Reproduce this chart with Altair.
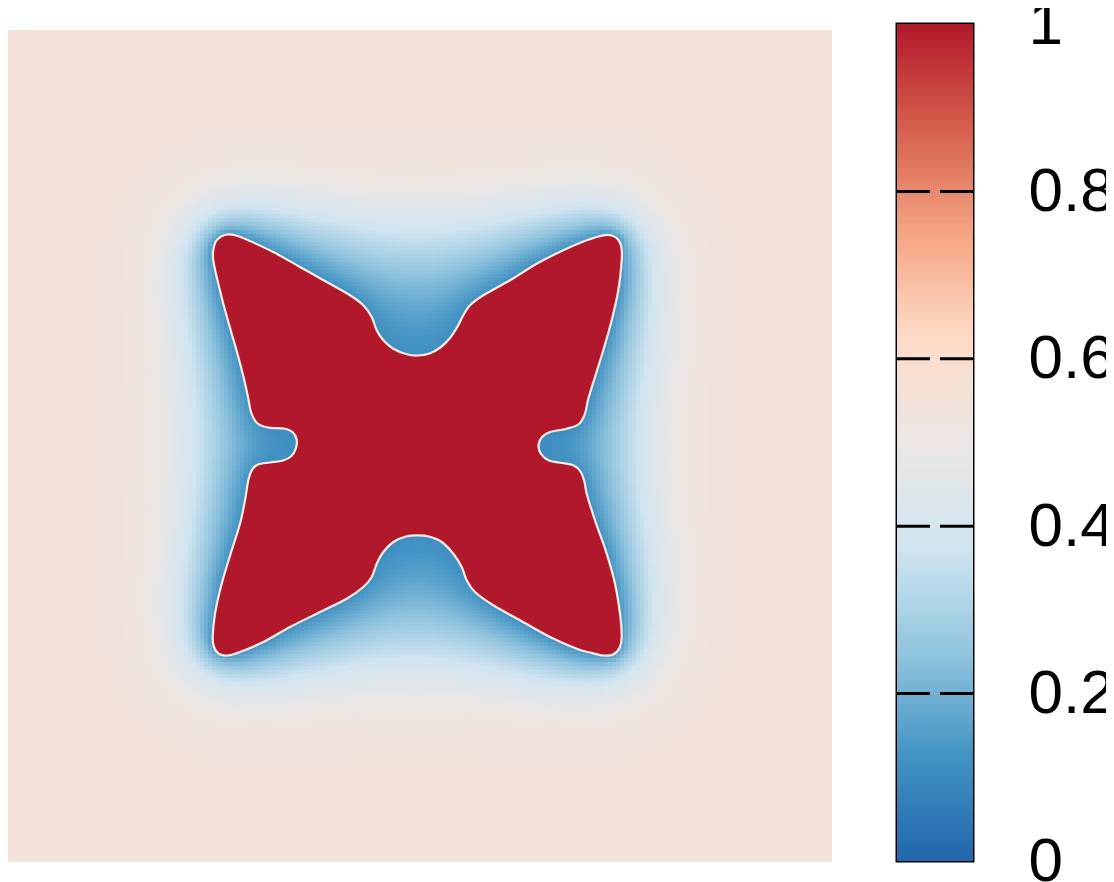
import numpy as np
import pandas as pd
import altair as alt

alt.data_transformers.disable_max_rows()

# ---------------- data ----------------
# outline of the red (phi = 1) crystal, reference pixel coordinates (page x, page y)
outline_x = [213.0, 215.5, 221.0, 228.0, 236.0, 248.3, 273.3, 300.0, 326.7, 350.0, 363.3, 371.7,
             376.7, 383.3, 393.3, 406.7, 418.0, 429.5, 441.0, 450.0, 456.7, 463.3, 470.0, 483.3,
             510.0, 536.7, 563.3, 586.7, 603.3, 612.0, 618.5, 621.5, 621.7, 618.3, 611.7, 603.3,
             595.0, 588.3, 585.0, 579.0, 566.7, 550.0, 542.0, 538.5, 541.0, 549.0, 562.0, 573.3,
             580.5, 584.5, 586.7, 595.0, 606.7, 615.0, 620.0, 621.7, 619.5, 613.0, 603.0, 590.0,
             576.7, 550.0, 520.0, 493.3, 475.0, 466.7, 461.7, 453.3, 441.7, 429.0, 418.0, 406.7,
             393.3, 383.3, 376.7, 371.7, 363.3, 346.7, 320.0, 290.0, 263.3, 240.0, 228.0, 219.0,
             214.0, 212.7, 215.0, 221.7, 231.7, 240.0, 245.0, 248.3, 251.7, 258.0, 270.0, 283.0,
             291.5, 296.0, 296.5, 292.5, 284.0, 268.0, 257.0, 251.0, 248.0, 243.5, 237.0, 231.7,
             223.3, 216.7, 213.5]
outline_y_page = [250.0, 240.0, 234.5, 232.5, 233.5, 238.3, 250.0, 265.0, 280.0, 293.3, 303.3, 315.0,
                  328.3, 338.3, 346.7, 352.3, 353.5, 351.5, 345.0, 336.0, 326.0, 313.3, 303.3, 293.3,
                  278.3, 261.7, 248.3, 238.3, 233.3, 233.5, 238.0, 246.0, 258.3, 288.3, 318.3, 348.3,
                  375.0, 396.7, 411.7, 422.0, 426.7, 430.0, 435.0, 443.0, 452.0, 458.5, 461.0, 463.3,
                  469.5, 480.0, 491.7, 518.3, 551.7, 581.7, 611.7, 635.0, 646.0, 652.5, 653.5, 650.5,
                  646.7, 635.0, 618.3, 603.3, 590.0, 578.3, 565.0, 551.7, 540.0, 534.5, 533.3, 534.3,
                  540.0, 550.0, 561.7, 575.0, 585.0, 596.7, 610.0, 625.0, 640.0, 650.0, 653.5, 652.0,
                  645.0, 635.0, 611.7, 581.7, 548.3, 521.7, 498.3, 478.3, 468.3, 462.5, 460.5, 458.5,
                  454.0, 446.0, 437.0, 430.0, 426.5, 425.5, 421.0, 410.0, 395.0, 375.0, 350.0, 331.7,
                  301.7, 275.0, 260.0]
PLOT_TOP = 28.0
outline_y = [v - PLOT_TOP for v in outline_y_page]

field_far = 0.55       # value of the undisturbed field (beige)
field_interface = 0.11 # value reached right at the crystal (dark blue)

colorbar_ticks = [0, 0.2, 0.4, 0.6, 0.8, 1]
color_stops = [0, 0.125, 0.25, 0.375, 0.5, 0.625, 0.75, 0.875, 1]
color_values = ["#2166ac", "#4393c3", "#92c5de", "#d1e5f0", "#ebe7e5",
                "#fddbc7", "#f4a582", "#d6604d", "#b2182b"]

# ---------------- field around the crystal ----------------
SIZE = 832.0
CELL = 4.0
N = int(SIZE / CELL)
cc = (np.arange(N) + 0.5) * CELL
X, Y = np.meshgrid(cc, cc)
px = np.array(outline_x)
py = np.array(outline_y)


def inside_poly(xs, ys, qx, qy):
    res = np.zeros(qx.shape, bool)
    n = len(xs)
    for i in range(n):
        x1, y1, x2, y2 = xs[i], ys[i], xs[(i + 1) % n], ys[(i + 1) % n]
        cond = (y1 > qy) != (y2 > qy)
        xint = x1 + (qy - y1) * (x2 - x1) / ((y2 - y1) if y2 != y1 else 1e-9)
        res ^= cond & (qx < xint)
    return res


def poly_dist(xs, ys, qx, qy):
    d = np.full(qx.shape, np.inf)
    n = len(xs)
    for i in range(n):
        ax, ay, bx, by = xs[i], ys[i], xs[(i + 1) % n], ys[(i + 1) % n]
        dx, dy = bx - ax, by - ay
        t = np.clip(((qx - ax) * dx + (qy - ay) * dy) / (dx * dx + dy * dy), 0, 1)
        d = np.minimum(d, np.hypot(qx - ax - t * dx, qy - ay - t * dy))
    return d


def convex_hull(xs, ys):
    pts = sorted(set(zip(xs, ys)))

    def cross(o, a, b):
        return (a[0] - o[0]) * (b[1] - o[1]) - (a[1] - o[1]) * (b[0] - o[0])
    lower, upper = [], []
    for p in pts:
        while len(lower) >= 2 and cross(lower[-2], lower[-1], p) <= 0:
            lower.pop()
        lower.append(p)
    for p in reversed(pts):
        while len(upper) >= 2 and cross(upper[-2], upper[-1], p) <= 0:
            upper.pop()
        upper.append(p)
    h = lower[:-1] + upper[:-1]
    return np.array([p[0] for p in h]), np.array([p[1] for p in h])


inside = inside_poly(px, py, X, Y)
dist = poly_dist(px, py, X, Y)
hx, hy = convex_hull(outline_x, outline_y)
hull_in = inside_poly(hx, hy, X, Y)
hull_d = np.where(hull_in, 0.0, poly_dist(hx, hy, X, Y))

LAM_IN, LAM_OUT = 170.0, 22.0
lam = LAM_OUT + (LAM_IN - LAM_OUT) * np.exp(-hull_d / 16.0)
k = (CELL / lam) ** 2

border = np.zeros((N, N), bool)
border[0, :] = border[-1, :] = border[:, 0] = border[:, -1] = True
free = ~(inside | border)
w = np.where(inside, 1.0, np.exp(-dist / 30.0))
w[border] = 0.0
I, J = np.meshgrid(np.arange(N), np.arange(N))
parity = (I + J) % 2
masks = [free & (parity == 0), free & (parity == 1)]
omega = 1.9
for _ in range(2500):
    for m in masks:
        nb = np.roll(w, 1, 0) + np.roll(w, -1, 0) + np.roll(w, 1, 1) + np.roll(w, -1, 1)
        w = np.where(m, w + omega * (nb / (4.0 + k) - w), w)

value = field_far - (field_far - field_interface) * w
keep = (~(inside & (dist > 3.0))) & (w > 0.004)
OVER = 0.6  # slight overlap so neighbouring cells leave no hairline seams
cells = pd.DataFrame({
    "x0": (X[keep] - CELL / 2).round(1),
    "x1": (X[keep] + CELL / 2 + OVER).round(1),
    "y0": (Y[keep] - CELL / 2).round(1),
    "y1": (Y[keep] + CELL / 2 + OVER).round(1),
    "v": value[keep].round(4),
})
background = pd.DataFrame({"x0": [0.0], "x1": [SIZE], "y0": [0.0], "y1": [SIZE], "v": [field_far]})
crystal = pd.DataFrame({"i": np.arange(len(outline_x)), "x": outline_x, "y": outline_y, "v": 1.0})

# ---------------- chart ----------------
cscale = alt.Scale(domain=color_stops, range=color_values, interpolate="rgb")
xs = alt.Scale(domain=[0, SIZE], nice=False, zero=False)
ys = alt.Scale(domain=[-6, SIZE], nice=False, zero=False, reverse=True)

bg = alt.Chart(background).mark_rect().encode(
    x=alt.X("x0:Q", scale=xs, axis=None), x2="x1:Q",
    y=alt.Y("y0:Q", scale=ys, axis=None), y2="y1:Q",
    color=alt.Color("v:Q", scale=cscale, legend=None),
)
halo = alt.Chart(cells).mark_rect().encode(
    x=alt.X("x0:Q", scale=xs, axis=None), x2="x1:Q",
    y=alt.Y("y0:Q", scale=ys, axis=None), y2="y1:Q",
    color=alt.Color("v:Q", scale=cscale, legend=None),
)
shape = alt.Chart(crystal).mark_line(
    interpolate="cardinal-closed", stroke="#f7ece2", strokeWidth=2.2, strokeJoin="round"
).encode(
    x=alt.X("x:Q", scale=xs, axis=None),
    y=alt.Y("y:Q", scale=ys, axis=None),
    order=alt.Order("i:Q"),
    fill=alt.Fill("v:Q", scale=cscale, legend=None),
)

heat = alt.layer(bg, halo, shape).properties(
    width=832, height=838, view=alt.ViewBackground(strokeWidth=0)
)

NLEV = 256
levels = np.linspace(0, 1, NLEV + 1)
cb = pd.DataFrame({"lo": levels[:-1], "hi": np.minimum(levels[1:] + 0.4 / NLEV, 1.0),
                   "mid": (levels[:-1] + levels[1:]) / 2})
cb_scale = alt.Scale(domain=[0, 1], nice=False, zero=False)
bar = alt.Chart(cb).mark_rect().encode(
    y=alt.Y("lo:Q", scale=cb_scale, axis=alt.Axis(
        orient="right", values=colorbar_ticks, format="~g", title=None,
        labelFontSize=62, labelFont="Liberation Sans", labelColor="black",
        domain=False, ticks=False, tickSize=0, grid=False, labelPadding=55,
        labelFlush=False, labelOverlap=False)),
    y2="hi:Q",
    x=alt.value(0), x2=alt.value(76),
    color=alt.Color("mid:Q", scale=cscale, legend=None),
)
tk = pd.DataFrame({"t": colorbar_ticks[1:-1]})
tick_left = alt.Chart(tk).mark_rule(color="black", strokeWidth=3).encode(
    y=alt.Y("t:Q", scale=cb_scale), x=alt.value(0), x2=alt.value(33))
tick_right = alt.Chart(tk).mark_rule(color="black", strokeWidth=3).encode(
    y=alt.Y("t:Q", scale=cb_scale), x=alt.value(43), x2=alt.value(76))
colorbar = alt.layer(bar, tick_left, tick_right).properties(
    width=76, height=837, view=alt.ViewBackground(stroke="black", strokeWidth=3)
)

chart = alt.hconcat(heat, colorbar, spacing=62).properties(
    padding={"left": -8, "top": -17, "right": -10, "bottom": 0}
).configure_view(strokeWidth=0)

chart.save("out.html", embed_options={"renderer": "svg", "actions": False})
